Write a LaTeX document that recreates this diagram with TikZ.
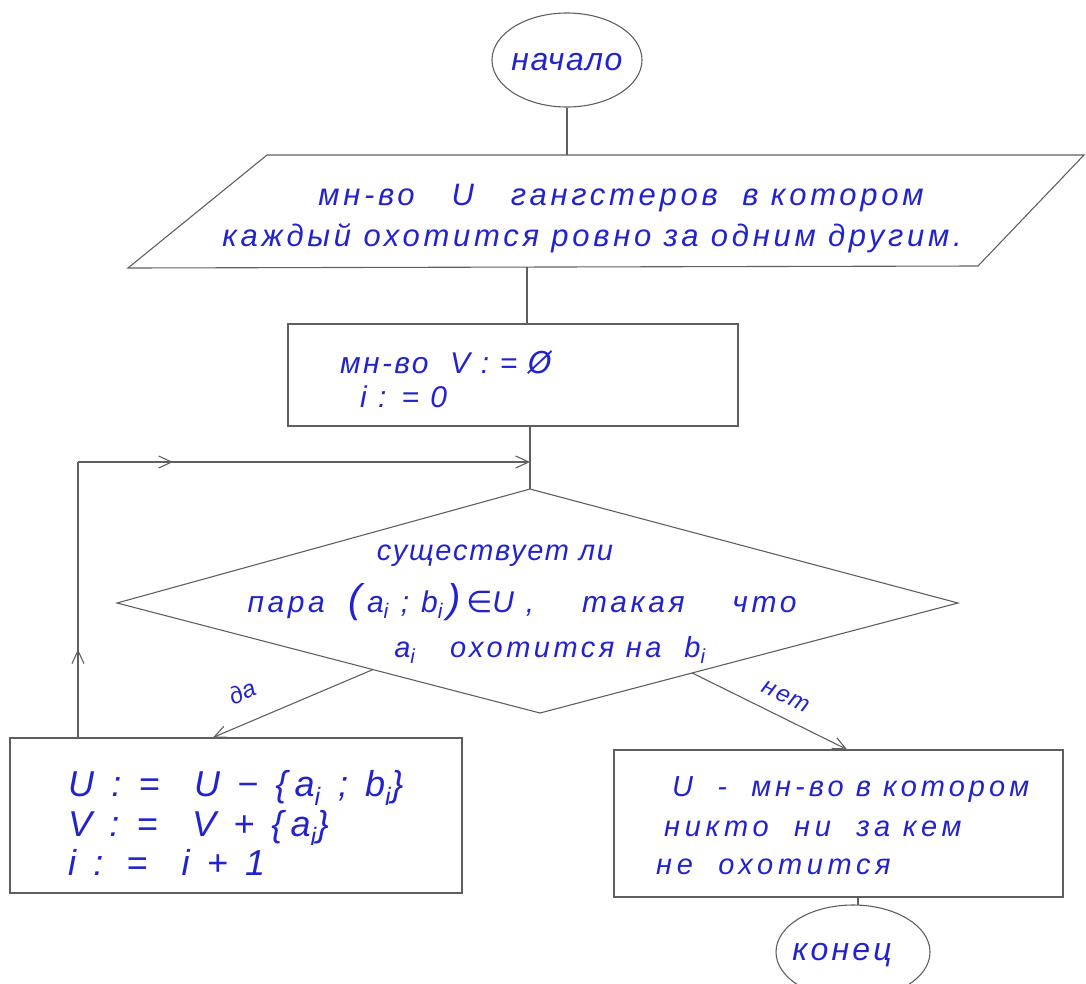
\documentclass[tikz,border=0pt]{standalone}
\usepackage{fontspec}
\setmainfont{Liberation Sans}
\newfontfamily\symf{DejaVu Sans}
\usetikzlibrary{shapes.geometric,arrows.meta,decorations.markings,calc}
\definecolor{ink}{RGB}{35,35,205}
\definecolor{pencil}{RGB}{95,95,95}
\newcommand\LS[2]{{\addfontfeature{LetterSpace=#1}#2}}
\newcommand\elem{{\symf\itshape ∈}}
\newcommand\emptyv{{\symf Ø}}
\newcommand\bigp[1]{{\fontsize{40}{40}\selectfont #1}}
\tikzset{
  line/.style={draw=pencil, line width=1.1pt},
  tip/.style={-{Straight Barb[length=13pt,width=12pt]}},
  midtip/.style={postaction={decorate},
    decoration={markings, mark=at position #1 with {\arrow[pencil,line width=1.1pt]{Straight Barb[length=13pt,width=12pt]}}}},
  hand/.style={text=ink, inner sep=0pt, font=\itshape\fontsize{#1}{#1}\selectfont},
  hand/.default=28,
}
\begin{document}
\begin{tikzpicture}[x=1pt,y=-1pt]
\useasboundingbox (0,0) rectangle (1086,983);
% start
\node[ellipse, line, minimum width=150pt, minimum height=94pt] (start) at (567,60) {};
\node[hand=32] (tstart) at (567,62) {\LS{5}{начало}};
% input parallelogram
\draw[line] (267,155) coordinate (pTL) -- (1084,155) coordinate (pTR)
  -- (978,266) coordinate (pBR) -- (128,268) coordinate (pBL) -- cycle;
\coordinate (pB) at (527,267);
\node[hand=31, anchor=base] (in1) at (621,205) {\LS{12}{мн-во \ \ U \ \ гангстеров \ в котором}};
\node[hand=31, anchor=base] (in2) at (592,246) {\LS{12}{каждый охотится ровно за одним другим.}};
% init box
\node[rectangle, line, minimum width=450pt, minimum height=102pt] (b1) at (513,375) {};
\node[hand=30, anchor=base west] (b1a) at (340,373) {\LS{8}{мн-во \ V : = \emptyv}};
\node[hand=30, anchor=base west] (b1b) at (360,407) {\LS{10}{i : = 0}};
% diamond
\draw[line] (530,489) coordinate (dT) -- (958,603) coordinate (dR)
  -- (540,713) coordinate (dB) -- (117,603) coordinate (dL) -- cycle;
\node[hand=29, anchor=base] (d1) at (495,560) {\LS{6}{существует ли}};
\node[hand=30, anchor=base] (d2) at (522,612) {\LS{12}{пара \ \bigp{(}\,a\textsubscript{i} ; b\textsubscript{i}\,\bigp{)}\,\elem U , \ \ \ такая \ \ \ что}};
\node[hand=29, anchor=base] (d3) at (550,657) {\LS{12}{a\textsubscript{i} \ \ охотится на \ b\textsubscript{i}}};
\coordinate (join) at (530,462);
% yes box
\node[rectangle, line, minimum width=452pt, minimum height=155pt] (bl) at (236,815.5) {};
\node[hand=36, anchor=base west] (bl1) at (68,796) {\LS{20}{U : = \ U − \{a\textsubscript{i} ; b\textsubscript{i}\}}};
\node[hand=36, anchor=base west] (bl2) at (68,836) {\LS{20}{V : = \ V + \{a\textsubscript{i}\}}};
\node[hand=36, anchor=base west] (bl3) at (68,875) {\LS{20}{i : = \ i + 1}};
% no box
\node[rectangle, line, minimum width=449pt, minimum height=147pt] (br) at (838.5,823.5) {};
\node[hand=29, anchor=base west] (br1) at (672,796) {\LS{14}{U \ - \ мн-во в котором}};
\node[hand=29, anchor=base west] (br2) at (664,836) {\LS{16}{никто \ ни \ за кем}};
\node[hand=29, anchor=base west] (br3) at (656,874) {\LS{16}{не \ охотится}};
% end
\node[ellipse, line, minimum width=154pt, minimum height=94pt] (end) at (853,952) {};
\node[hand=32] (tend) at (842,955) {\LS{10}{конец}};
% connectors
\draw[line] (start.south) -- (start.south |- pTL);
\draw[line] (pB) -- (pB |- b1.north);
\draw[line] (b1.south -| dT) -- (dT);
\coordinate (lp) at (78,462);
\draw[line, midtip=0.32] (bl.north -| lp) -- (lp);
\draw[line, tip, midtip=0.21] (lp) -- (join);
\coordinate (yesS) at ($(dL)!0.605!(dB)$);
\coordinate (yesE) at (213,0);
\draw[line, tip] (yesS) -- (yesE |- bl.north);
\node[hand=24, rotate=23] (yes) at (242,692) {да};
\coordinate (noS) at ($(dB)!0.364!(dR)$);
\coordinate (noE) at (847,0);
\draw[line, tip] (noS) -- (noE |- br.north);
\node[hand=24, rotate=-26] (no) at (786,697) {\LS{8}{нет}};
\draw[line] (br.south -| 858,0) -- (858,905);
\end{tikzpicture}
\end{document}
